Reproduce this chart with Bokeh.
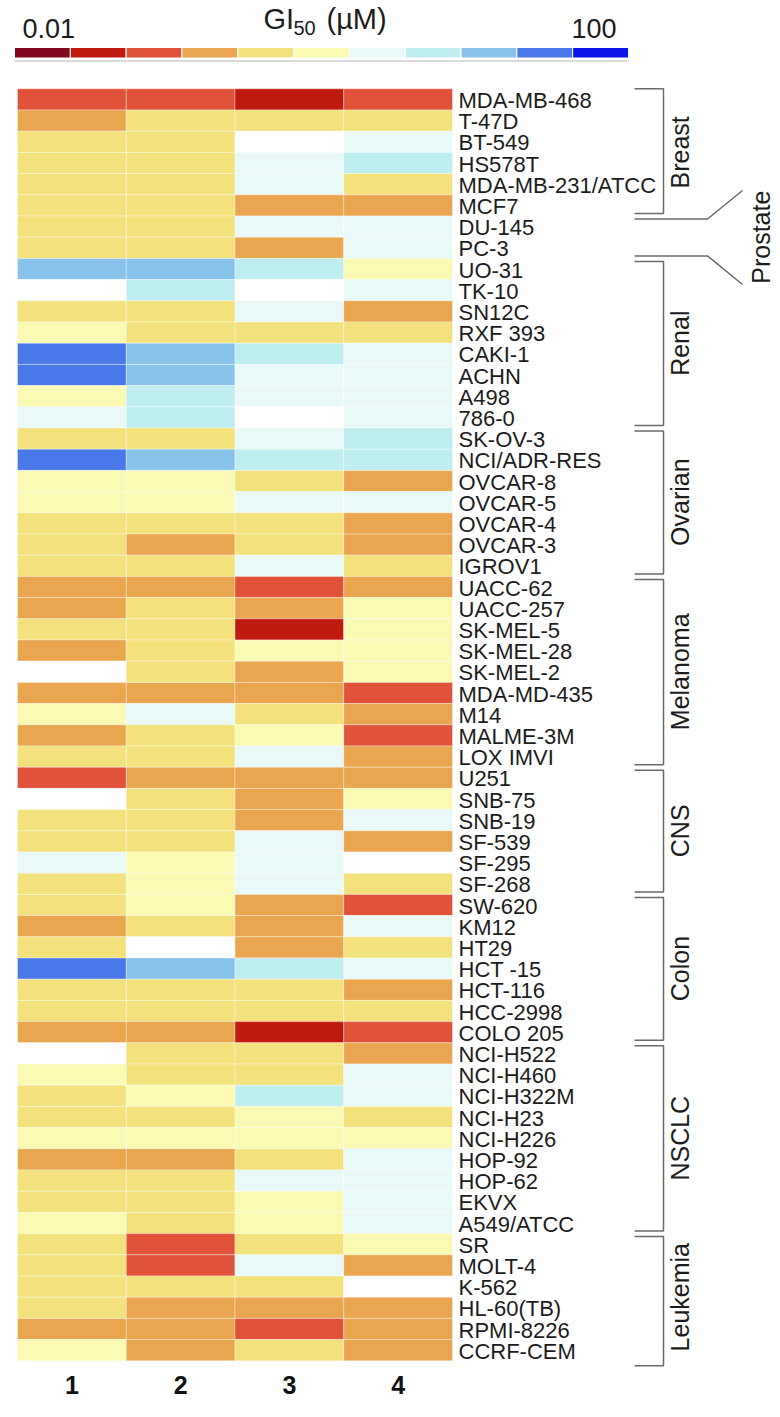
import numpy as np
from bokeh.plotting import figure
from bokeh.layouts import column
from bokeh.models import ColumnDataSource, Range1d, LinearColorMapper
from bokeh.transform import transform
from bokeh.core.properties import value
from bokeh.embed import file_html
from bokeh.resources import INLINE

# ---------------- data ----------------
compounds = ["1", "2", "3", "4"]

cell_lines = [
    "MDA-MB-468", "T-47D", "BT-549", "HS578T", "MDA-MB-231/ATCC", "MCF7",
    "DU-145", "PC-3",
    "UO-31", "TK-10", "SN12C", "RXF 393", "CAKI-1", "ACHN", "A498", "786-0",
    "SK-OV-3", "NCI/ADR-RES", "OVCAR-8", "OVCAR-5", "OVCAR-4", "OVCAR-3", "IGROV1",
    "UACC-62", "UACC-257", "SK-MEL-5", "SK-MEL-28", "SK-MEL-2", "MDA-MD-435", "M14",
    "MALME-3M", "LOX IMVI",
    "U251", "SNB-75", "SNB-19", "SF-539", "SF-295", "SF-268",
    "SW-620", "KM12", "HT29", "HCT -15", "HCT-116", "HCC-2998", "COLO 205",
    "NCI-H522", "NCI-H460", "NCI-H322M", "NCI-H23", "NCI-H226", "HOP-92", "HOP-62",
    "EKVX", "A549/ATCC",
    "SR", "MOLT-4", "K-562", "HL-60(TB)", "RPMI-8226", "CCRF-CEM",
]

groups = ["Breast", "Prostate", "Renal", "Ovarian", "Melanoma", "CNS", "Colon", "NSCLC", "Leukemia"]
group_sizes = [6, 2, 8, 7, 9, 6, 7, 9, 6]

# GI50 colour class: 1 = 0.01 uM ... 11 = 100 uM ; None = white (no value)
gi50_bin_1 = [3, 4, 5, 5, 5, 5, 5, 5, 9, None, 5, 6, 10, 10, 6, 7, 5, 10, 6, 6, 5, 5, 5,
              4, 4, 5, 4, None, 4, 6, 4, 5, 3, None, 5, 5, 7, 5, 5, 4, 5, 10, 5, 5, 4,
              None, 6, 5, 5, 6, 4, 5, 5, 6, 5, 5, 5, 5, 4, 6]
gi50_bin_2 = [3, 5, 5, 5, 5, 5, 5, 5, 9, 8, 5, 5, 9, 9, 8, 8, 5, 9, 6, 6, 5, 4, 5,
              4, 5, 5, 5, 5, 4, 7, 5, 5, 4, 5, 5, 5, 6, 6, 6, 5, None, 9, 5, 5, 4,
              5, 5, 6, 5, 6, 4, 5, 5, 5, 3, 3, 5, 4, 4, 4]
gi50_bin_3 = [2, 5, None, 7, 7, 4, 7, 4, 8, None, 7, 5, 8, 7, 7, None, 7, 8, 5, 7, 5, 5, 7,
              3, 4, 2, 6, 4, 4, 5, 6, 7, 4, 4, 4, 7, 7, 7, 4, 4, 4, 8, 5, 5, 2,
              5, 5, 8, 6, 6, 5, 7, 6, 6, 5, 7, 5, 4, 3, 5]
gi50_bin_4 = [3, 5, 7, 8, 5, 4, 7, 7, 6, 7, 4, 5, 7, 7, 7, 7, 8, 8, 4, 7, 4, 4, 5,
              4, 6, 6, 6, 6, 3, 4, 3, 4, 4, 6, 7, 4, None, 5, 3, 7, 5, 7, 4, 5, 3,
              4, 7, 7, 5, 6, 7, 7, 7, 7, 6, 4, None, 4, 4, 4]

cbar_colors = ["#820a20", "#c0190f", "#e0533a", "#e9a64f", "#f3e17c", "#fafab4",
               "#e8f9f8", "#beeef0", "#88c2ea", "#4a78e8", "#0b16e8"]
cbar_low, cbar_high = 0.01, 100
cbar_low_label, cbar_high_label = "0.01", "100"

FONT = value("Liberation Sans")
TXT = "#1c1c1c"
LINE = "#6a6a6a"

# ---------------- layout constants (reference pixels) ----------------
W = 780
CB_H = 80
HEAT_H = 1417 - CB_H
HX0, CW = 17.0, 108.75      # heatmap left edge, column width
HY0, RH = 88.3, 21.2        # heatmap top edge, row height


def xu(px):
    return 0.5 + (px - HX0) / CW


def yu(py):
    return 0.5 + (py - HY0) / RH


# ---------------- colour bar figure ----------------
CB_X0, CB_X1 = 14.0, 628.0
l0, l1 = np.log10(cbar_low), np.log10(cbar_high)


def lx(px):
    return 10 ** (l0 + (px - CB_X0) / (CB_X1 - CB_X0) * (l1 - l0))


cb = figure(width=W, height=CB_H, x_axis_type="log",
            x_range=Range1d(lx(0), lx(W)), y_range=Range1d(CB_H, 0),
            x_axis_location=None, y_axis_location=None, toolbar_location=None,
            output_backend="svg", min_border=0, outline_line_color=None)
cb.grid.visible = False

edges = np.logspace(l0, l1, len(cbar_colors) + 1)
cb.quad(left=edges[:-1], right=edges[1:], top=47, bottom=57.5,
        fill_color=cbar_colors, line_color="white", line_width=1)
cb.segment(x0=[cbar_low], x1=[cbar_high], y0=[60.5], y1=[60.5],
           line_color="#dadada", line_width=2)

cb.text(x=[cbar_low], y=[28], text=[cbar_low_label], x_offset=8,
        text_font=FONT, text_font_size="27px", text_align="left",
        text_baseline="middle", text_color=TXT)
cb.text(x=[cbar_high], y=[28], text=[cbar_high_label], x_offset=-12,
        text_font=FONT, text_font_size="27px", text_align="right",
        text_baseline="middle", text_color=TXT)
mid = 10 ** ((l0 + l1) / 2)
cb.text(x=[mid], y=[18], text=["GI"], x_offset=-58, text_font=FONT,
        text_font_size="29px", text_align="left", text_baseline="middle", text_color=TXT)
cb.text(x=[mid], y=[27], text=["50"], x_offset=-28, text_font=FONT,
        text_font_size="20px", text_align="left", text_baseline="middle", text_color=TXT)
cb.text(x=[mid], y=[18], text=["(µM)"], x_offset=5, text_font=FONT,
        text_font_size="29px", text_align="left", text_baseline="middle", text_color=TXT)

# ---------------- heatmap figure ----------------
p = figure(width=W, height=HEAT_H,
           x_range=Range1d(xu(0), xu(W)), y_range=Range1d(yu(1417), yu(CB_H)),
           x_axis_location=None, y_axis_location=None, toolbar_location=None,
           output_backend="svg", min_border=0, outline_line_color=None)
p.grid.visible = False

cols = [gi50_bin_1, gi50_bin_2, gi50_bin_3, gi50_bin_4]
xs, ys, vals = [], [], []
for ci, colvals in enumerate(cols):
    for ri, v in enumerate(colvals):
        xs.append(ci + 1)
        ys.append(ri + 1)
        vals.append(np.nan if v is None else float(v))
src = ColumnDataSource(dict(x=xs, y=ys, v=vals))
mapper = LinearColorMapper(palette=cbar_colors, low=0.5, high=len(cbar_colors) + 0.5,
                           nan_color="white")
p.rect(x="x", y="y", width=1, height=1, source=src,
       fill_color=transform("v", mapper), line_color="white", line_alpha=0.35, line_width=1)

# row labels
n = len(cell_lines)
p.text(x=[len(compounds) + 0.5] * n, y=list(range(1, n + 1)), text=cell_lines,
       x_offset=6, y_offset=1, text_font=FONT, text_font_size="22px",
       text_align="left", text_baseline="middle", text_color=TXT)

# column labels
p.text(x=list(range(1, len(compounds) + 1)), y=[yu(1384)] * len(compounds), text=compounds,
       text_font=FONT, text_font_size="25px", text_font_style="bold",
       text_align="center", text_baseline="middle", text_color="#111111")

# group brackets
cum = np.concatenate([[0], np.cumsum(group_sizes)])
bx_l, bx_r = xu(634), xu(663)
mxs, mys = [], []
lab_x, lab_y, lab_t = [], [], []
for g, name in enumerate(groups):
    start, end = cum[g], cum[g + 1]
    top = start + 0.5 + (3 / RH if g > 0 else 0)
    bot = end + 0.5 + (-2.5 / RH if g < len(groups) - 1 else 5 / RH)
    if group_sizes[g] <= 2:
        mxs.append([bx_l, xu(707), xu(742)])
        mys.append([top, top, yu(190)])
        mxs.append([bx_l, xu(707), xu(742)])
        mys.append([bot, bot, yu(284)])
        lab_x.append(xu(760))
    else:
        mxs.append([bx_l, bx_r, bx_r, bx_l])
        mys.append([top, top, bot, bot])
        lab_x.append(xu(679))
    lab_y.append((start + end) / 2 + 0.5)
    lab_t.append(name)

p.multi_line(xs=mxs, ys=mys, line_color=LINE, line_width=1.5)
p.text(x=lab_x, y=lab_y, text=lab_t, angle=np.pi / 2, text_font=FONT,
       text_font_size="25px", text_align="center", text_baseline="middle", text_color=TXT)

layout = column(cb, p, spacing=0)
open("out.html", "w").write(file_html(layout, INLINE))
